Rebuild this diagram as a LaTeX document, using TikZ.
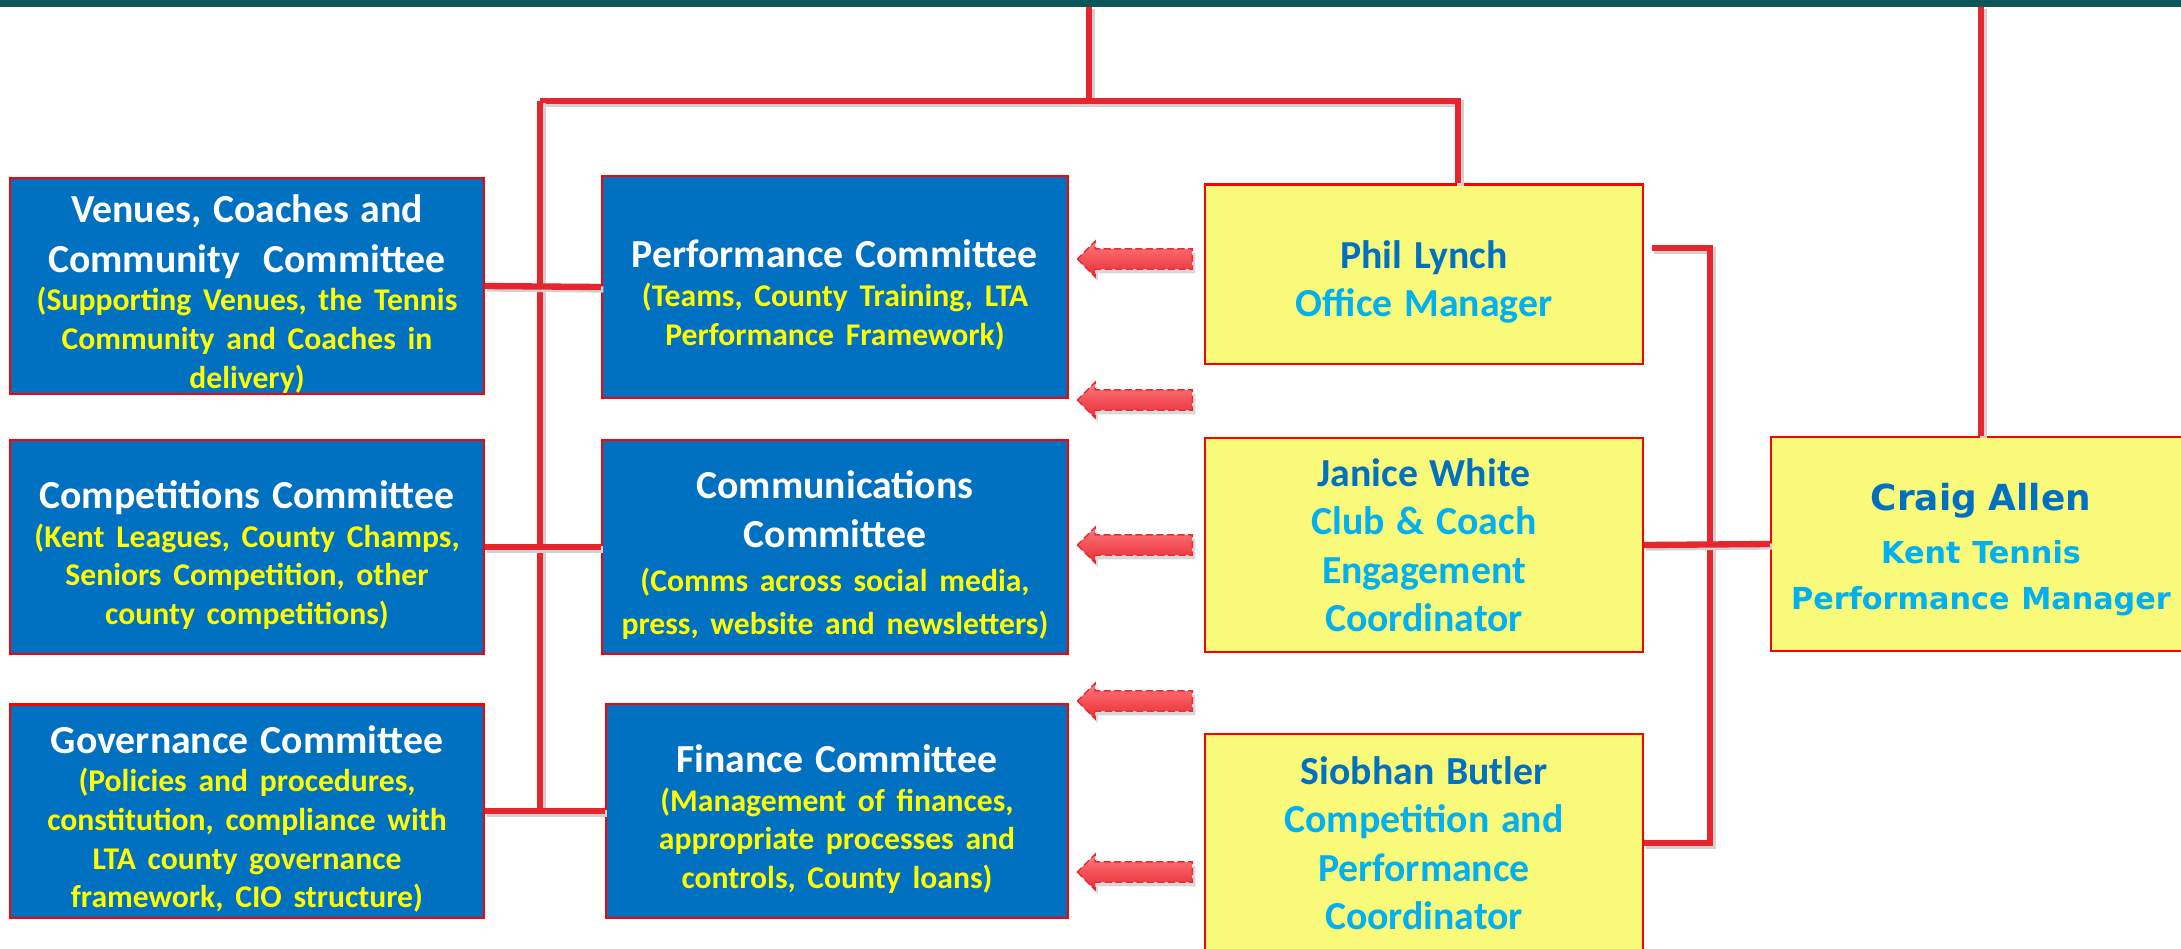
\documentclass[tikz,border=0pt]{standalone}
\usepackage{fontspec}
\setmainfont{Carlito}
\newfontfamily\craigfont{DejaVu Sans}
\usetikzlibrary{shapes.arrows,shadows}

\definecolor{barteal}{RGB}{12,88,88}
\definecolor{cmblue}{RGB}{0,112,192}
\definecolor{cmyellow}{RGB}{255,255,0}
\definecolor{staffyellow}{RGB}{249,249,122}
\definecolor{nameblue}{RGB}{0,112,192}
\definecolor{roleblue}{RGB}{0,176,240}
\definecolor{linkred}{RGB}{230,38,44}
\definecolor{edgered}{RGB}{255,0,0}
\definecolor{arrowtop}{RGB}{255,120,124}
\definecolor{arrowbot}{RGB}{232,44,52}

\newcommand{\cmtitle}{\fontsize{11.3}{14}\selectfont\bfseries\color{white}\rule{0pt}{12.5pt}}
\newcommand{\cmnote}{\fontsize{9}{11}\selectfont\bfseries\color{cmyellow}}
\newcommand{\staffname}{\fontsize{11.3}{13.8}\selectfont\bfseries\color{nameblue}}
\newcommand{\staffrole}{\color{roleblue}}

\tikzset{
  combox/.style={draw=edgered, line width=0.6pt, fill=cmblue, text width=4.5cm,
    align=center, inner sep=0pt, minimum width=4.73cm, minimum height=2.15cm},
  staffbox/.style={draw=edgered, line width=0.6pt, fill=staffyellow, text width=4.2cm,
    align=center, inner sep=0pt, minimum width=4.37cm, minimum height=2.14cm},
  link/.style={draw=linkred, line width=1.8pt, line join=miter,
    preaction={draw=black!18, line width=1.8pt, transform canvas={xshift=0.7pt, yshift=-0.7pt}}},
  pointer/.style={single arrow, shape border rotate=180, inner xsep=0pt, inner ysep=0.095cm,
    single arrow head extend=0.075cm, minimum height=1.15cm,
    top color=arrowtop, bottom color=arrowbot, draw=arrowbot, dashed,
    dash pattern=on 2pt off 1pt, line width=0.4pt,
    drop shadow={opacity=0.3, shadow xshift=0.8pt, shadow yshift=-1.2pt}}
}

\begin{document}
\begin{tikzpicture}[x=0.01cm, y=-0.01cm]
      % page and top bar
      \path[use as bounding box, clip] (0,0) rectangle (2181,948);
      \fill[white] (0,0) rectangle (2181,948);
      \fill[barteal] (0,0) rectangle (2181,7);
      \coordinate (topA) at (1089,7);
      \coordinate (topB) at (1981,7);

      % committees
      \node[combox] (venues) at (247,286) {\cmtitle Venues, Coaches and\\Community\ \ Committee\par
        \cmnote (Supporting Venues, the Tennis\\Community and Coaches in\\delivery)\par};
      \node[combox, minimum width=4.66cm, minimum height=2.21cm] (perform) at (835,287) {\cmtitle Performance Committee\par
        \cmnote (Teams, County Training, LTA\\Performance Framework)\par};
      \node[combox, minimum height=2.14cm] (compete) at (247,547) {\cmtitle Competitions Committee\par
        \cmnote (Kent Leagues, County Champs,\\Seniors Competition, other\\county competitions)\par};
      \node[combox, minimum width=4.66cm, minimum height=2.14cm] (comms) at (835,547) {\cmtitle Communications\\Committee\par
        \cmnote\fontsize{9}{12.4}\selectfont (Comms across social media,\\press, website and newsletters)\par};
      \node[combox, minimum height=2.13cm] (govern) at (247,811) {\cmtitle Governance Committee\par
        \cmnote (Policies and procedures,\\constitution, compliance with\\LTA county governance\\framework, CIO structure)\par};
      \node[combox, minimum width=4.62cm, minimum height=2.14cm] (finance) at (837,811) {\cmtitle Finance Committee\par
        \cmnote (Management of finances,\\appropriate processes and\\controls, County loans)\par};

      % staff
      \node[staffbox, minimum height=1.79cm] (phil) at (1424,274) {\staffname\rule{0pt}{12.5pt}Phil Lynch\\\staffrole Office Manager\par};
      \node[staffbox] (janice) at (1424,545) {\staffname Janice White\\\staffrole Club \& Coach\\Engagement\\Coordinator\par};
      \node[staffbox, minimum height=2.18cm] (siobhan) at (1424,843) {\staffname Siobhan Butler\\\staffrole Competition and\\Performance\\Coordinator\par};
      \node[staffbox, minimum width=4.2cm, text width=4.1cm] (craig) at (1981,544) {\craigfont\bfseries
        \fontsize{10.2}{13.8}\selectfont\color{nameblue}\rule{0pt}{11pt}Craig Allen\par
        \fontsize{8.6}{15}\selectfont\staffrole Kent Tennis\\[-2pt]Performance Manager\par};

      % connectors
      \coordinate (jtop) at (1089,101);
      \coordinate (jleft) at (540,101);
      \coordinate (jright) at (1458,101);
      \coordinate (philout) at (1652,248);
      \coordinate (rbrack) at (1710,248);
      \draw[link] (topA) -- (jtop);
      \draw[link] (jleft) -- (jright) -- (phil.north -| jright);
      \draw[link] (jleft) -- (jleft |- govern.east);
      \draw[link] (venues.east) -- (perform.west);
      \draw[link] (compete.east) -- (comms.west);
      \draw[link] (govern.east) -- (finance.west);
      \draw[link] (philout) -- (rbrack) -- (rbrack |- siobhan.east) -- (siobhan.east);
      \draw[link] (janice.east) -- (craig.west);
      \draw[link] (topB) -- (craig.north);

      % arrows
      \foreach \y [count=\i] in {259,400,545,701,872} {
          \node[pointer] (arrow\i) at (1140,\y) {};
      }
\end{tikzpicture}
\end{document}
